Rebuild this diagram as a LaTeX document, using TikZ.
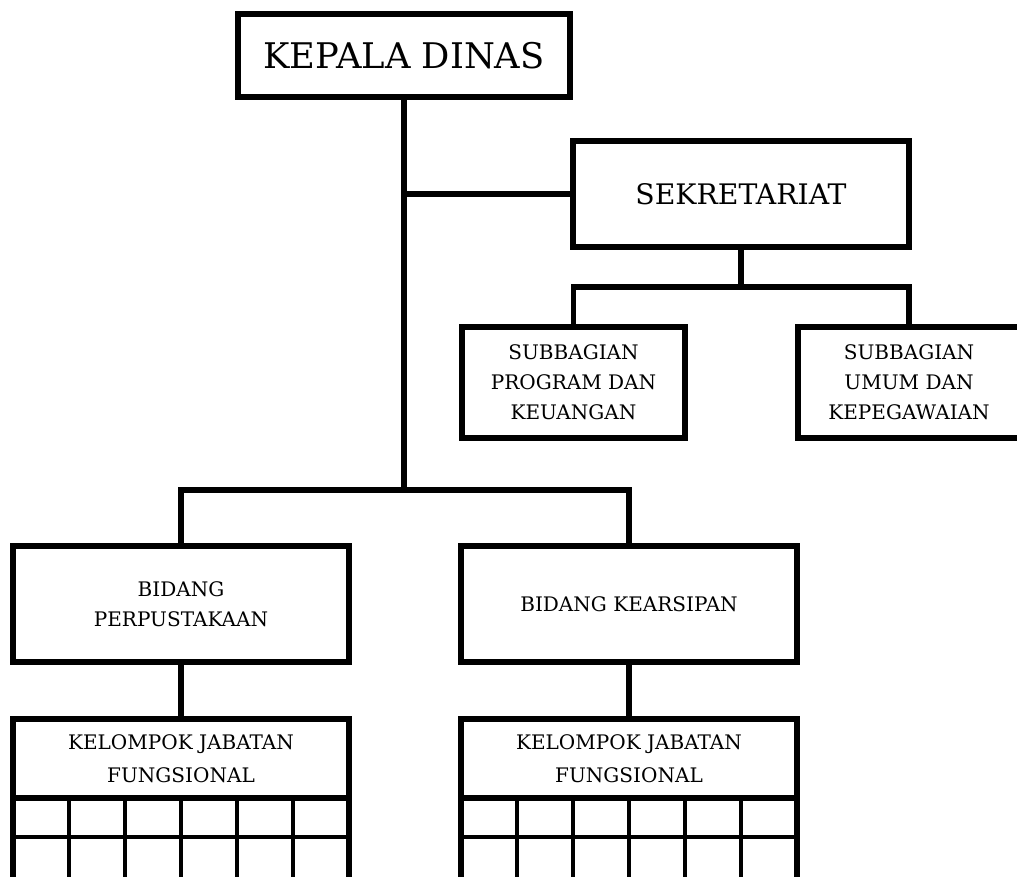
\documentclass[tikz,border=0pt]{standalone}
\usepackage{fontspec}
\setmainfont{DejaVu Serif}
\usepackage{tikz}
\usetikzlibrary{positioning}

\begin{document}
\begin{tikzpicture}[
    x=0.02cm, y=-0.02cm,
    unit/.style={rectangle, draw=black, line width=3.4pt, outer sep=0pt, inner sep=0pt, align=center},
    headbox/.style={unit, minimum width=6.64cm, minimum height=1.66cm, font=\fontsize{20.1}{24}\selectfont},
    secbox/.style={unit, minimum width=6.72cm, minimum height=2.12cm, font=\fontsize{16.1}{19}\selectfont},
    subbox/.style={unit, minimum width=4.46cm, minimum height=2.22cm, font=\fontsize{11.4}{17}\selectfont},
    fieldbox/.style={unit, minimum width=6.72cm, minimum height=2.32cm, font=\fontsize{11.4}{17}\selectfont},
    groupbox/.style={unit, minimum width=6.72cm, minimum height=1.58cm, font=\fontsize{11.4}{18.5}\selectfont},
    link/.style={line width=3.4pt},
    cell/.style={line width=2.3pt}
]
\useasboundingbox (0,0) rectangle (1017,876);
\clip (0,0) rectangle (1017,876);

\node[headbox] (kadis) at (404,55.5) {KEPALA DINAS};
\node[secbox] (sekre) at (741,194) {SEKRETARIAT};
\node[subbox] (subprog) at (573.5,382.5) {SUBBAGIAN\\PROGRAM DAN\\KEUANGAN};
\node[subbox] (subumum) at (909,382.5) {SUBBAGIAN\\UMUM DAN\\KEPEGAWAIAN};
\node[fieldbox] (bidpus) at (181,604) {BIDANG\\PERPUSTAKAAN};
\node[fieldbox] (bidars) at (629,604) {BIDANG KEARSIPAN};
\node[groupbox, below=1.14cm of bidpus] (kelpus) {KELOMPOK JABATAN\\FUNGSIONAL};
\node[groupbox, below=1.14cm of bidars] (kelars) {KELOMPOK JABATAN\\FUNGSIONAL};

\coordinate (split) at (404,490);
\coordinate (subsplit) at (741,287);

\draw[link] (kadis) -- (split);
\draw[link] (kadis.south |- sekre.west) -- (sekre.west);
\draw[link] (bidpus.north) |- (split) -| (bidars.north);
\draw[link] (sekre) -- (subsplit);
\draw[link] (subprog.north) |- (subsplit) -| (subumum.north);
\draw[link] (bidpus) -- (kelpus);
\draw[link] (bidars) -- (kelars);

% grid under the functional groups
\foreach \grp in {kelpus,kelars} {
    \draw[link] (\grp.south west) -- ++(0,90);
    \draw[link] (\grp.south east) -- ++(0,90);
    \draw[cell] (\grp.south west) ++(0,39) -- ++(336,0);
    \foreach \c in {1,...,5}
        \draw[cell] (\grp.south west) ++(\c*56,0) -- ++(0,90);
}
\end{tikzpicture}
\end{document}
